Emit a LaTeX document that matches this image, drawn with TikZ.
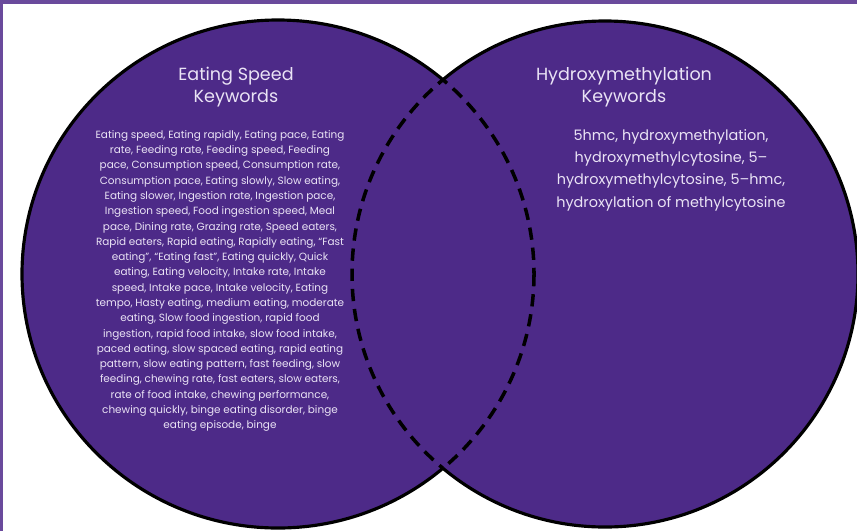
\documentclass[tikz,border=0pt]{standalone}
\usepackage{fontspec}
\setmainfont{Poppins}
\definecolor{vennpurple}{HTML}{4D2A88}
\definecolor{framepurple}{HTML}{6A4A9C}
\definecolor{softwhite}{HTML}{EAE3F5}
\begin{document}
\begin{tikzpicture}[x=0.02cm, y=-0.02cm,
  title/.style={text=softwhite, align=center, font=\fontsize{10}{12.6}\selectfont},
  eatbody/.style={text=softwhite, align=center, font=\fontsize{5.95}{8.7}\selectfont},
  hydbody/.style={text=softwhite, align=center, font=\fontsize{8.2}{12.7}\selectfont},
  rim/.style={line width=1.8pt},
  dashrim/.style={line width=2pt, dash pattern=on 7pt off 4.5pt}]
\useasboundingbox (0,0) rectangle (857,531);
\fill[white] (0,0) rectangle (857,531);
\fill[framepurple] (0,0) rectangle (857,4);
\fill[framepurple] (0,0) rectangle (3,531);
\coordinate (eatc) at (278,274);
\coordinate (hydc) at (605,274);
% sets
\fill[vennpurple] (eatc) ellipse [x radius=256, y radius=254];
\fill[vennpurple] (hydc) circle [radius=253];
% outer rims
\begin{scope}[even odd rule]
\clip (-20,-20) rectangle (880,560) (hydc) circle [radius=253];
\draw[rim] (eatc) ellipse [x radius=256, y radius=254];
\end{scope}
\begin{scope}[even odd rule]
\clip (-20,-20) rectangle (880,560) (eatc) ellipse [x radius=256, y radius=254];
\draw[rim] (hydc) circle [radius=253];
\end{scope}
% overlap rims
\begin{scope}
\clip (hydc) circle [radius=253];
\draw[dashrim] (eatc) ellipse [x radius=256, y radius=254];
\end{scope}
\begin{scope}
\clip (eatc) ellipse [x radius=256, y radius=254];
\draw[dashrim] (hydc) circle [radius=253];
\end{scope}
% labels
\node[title] (eattitle) at (236,87) {Eating Speed\\Keywords};
\node[title] (hydtitle) at (624,87) {Hydroxymethylation\\Keywords};
\node[eatbody] (eatlist) at (220,281) {Eating speed, Eating rapidly, Eating pace, Eating\\
rate, Feeding rate, Feeding speed, Feeding\\
pace, Consumption speed, Consumption rate,\\
Consumption pace, Eating slowly, Slow eating,\\
Eating slower, Ingestion rate, Ingestion pace,\\
Ingestion speed, Food ingestion speed, Meal\\
pace, Dining rate, Grazing rate, Speed eaters,\\
Rapid eaters, Rapid eating, Rapidly eating, “Fast\\
eating”, “Eating fast”, Eating quickly, Quick\\
eating, Eating velocity, Intake rate, Intake\\
speed, Intake pace, Intake velocity, Eating\\
tempo, Hasty eating, medium eating, moderate\\
eating, Slow food ingestion, rapid food\\
ingestion, rapid food intake, slow food intake,\\
paced eating, slow spaced eating, rapid eating\\
pattern, slow eating pattern, fast feeding, slow\\
feeding, chewing rate, fast eaters, slow eaters,\\
rate of food intake, chewing performance,\\
chewing quickly, binge eating disorder, binge\\
eating episode, binge};
\node[hydbody] (hydlist) at (671,170) {5hmc, hydroxymethylation,\\
hydroxymethylcytosine, 5–\\
hydroxymethylcytosine, 5–hmc,\\
hydroxylation of methylcytosine};
\end{tikzpicture}
\end{document}
